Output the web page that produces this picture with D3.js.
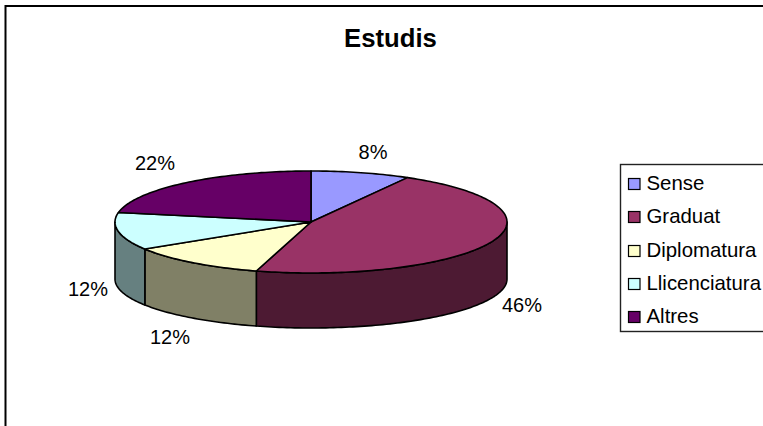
<!DOCTYPE html>
<html>
<head>
<meta charset="utf-8">
<script src="https://cdn.jsdelivr.net/npm/d3@7"></script>
<style>
  html, body { margin: 0; padding: 0; background: #fff; overflow: hidden; }
  text { font-family: "Liberation Sans", Arial, sans-serif; fill: #000; }
</style>
</head>
<body>
<div id="chart"></div>
<script>
// Data (slice shares estimated from the slice edges)
const categories = ["Sense", "Graduat", "Diplomatura", "Llicenciatura", "Altres"];
const values = [8.2, 46.3, 11.6, 11.9, 22];
const topColors = ["#9999ff", "#993366", "#ffffcc", "#ccffff", "#660066"];
const sideColors = ["#4d4d80", "#4d1a33", "#808066", "#668080", "#330033"];

const width = 763;
const height = 426;

const svg = d3.select("#chart")
  .append("svg")
  .attr("width", width)
  .attr("height", height);

// Chart frame, runs off the right and bottom of the window
svg.append("rect")
  .attr("x", 5.5)
  .attr("y", 6)
  .attr("width", 800)
  .attr("height", 500)
  .attr("fill", "#fff")
  .attr("stroke", "#000")
  .attr("stroke-width", 2);

svg.append("text")
  .attr("x", 390.5)
  .attr("y", 47)
  .attr("text-anchor", "middle")
  .style("font-size", "25.7px")
  .style("font-weight", "bold")
  .text("Estudis");

// Tilted pie: d3.pie gives the angles, the scales squash the circle
const cx = 311, rx = 196;
const xScale = d3.scaleLinear().domain([-1, 1]).range([cx - rx, cx + rx]);
const yTop = d3.scaleLinear().domain([-1, 1]).range([273, 171]);
const yBottom = d3.scaleLinear().domain([-1, 1]).range([328, 230]);

const pie = d3.pie().sort(null);
const arcs = pie(values);

const rimTop = d3.line().x(a => xScale(Math.sin(a))).y(a => yTop(Math.cos(a)));
const rimBottom = d3.line().x(a => xScale(Math.sin(a))).y(a => yBottom(Math.cos(a)));

function anglesBetween(a0, a1) {
  const n = Math.max(2, Math.ceil((a1 - a0) / 0.02));
  return d3.range(n + 1).map(i => a0 + (a1 - a0) * i / n);
}

const g = svg.append("g")
  .attr("stroke", "#000")
  .attr("stroke-width", 1.6)
  .attr("stroke-linejoin", "round");

// Side walls, only the part of each slice facing the viewer
arcs.forEach((d, i) => {
  const a0 = Math.max(d.startAngle, Math.PI / 2);
  const a1 = Math.min(d.endAngle, 3 * Math.PI / 2);
  if (a1 <= a0) return;
  const along = anglesBetween(a0, a1);
  g.append("path")
    .attr("d", rimTop(along) + "L" + rimBottom(along.reverse()).slice(1) + "Z")
    .attr("fill", sideColors[i]);
});

// Top slices
arcs.forEach((d, i) => {
  g.append("path")
    .attr("d", "M" + cx + "," + yTop(0) + "L" + rimTop(anglesBetween(d.startAngle, d.endAngle)).slice(1) + "Z")
    .attr("fill", topColors[i]);
});

// Percent labels
const labelAt = [[373, 159], [522, 312], [88, 296], [170, 344], [155, 170]];
labelAt.forEach((p, i) => {
  svg.append("text")
    .attr("x", p[0])
    .attr("y", p[1])
    .attr("text-anchor", "middle")
    .style("font-size", "20px")
    .text(Math.round(values[i]) + "%");
});

// Legend
const legend = svg.append("g");
legend.append("rect")
  .attr("x", 620.5)
  .attr("y", 164.5)
  .attr("width", 200)
  .attr("height", 167)
  .attr("fill", "#fff")
  .attr("stroke", "#222")
  .attr("stroke-width", 1.4);

const row = d3.scaleBand().domain(categories).range([167, 334]);

categories.forEach((c, i) => {
  const y = row(c) + row.bandwidth() / 2;
  legend.append("rect")
    .attr("x", 628.5)
    .attr("y", Math.round(y) - 5.5)
    .attr("width", 11.5)
    .attr("height", 11)
    .attr("fill", topColors[i])
    .attr("stroke", "#000")
    .attr("stroke-width", 1.2);
  legend.append("text")
    .attr("x", 646.5)
    .attr("y", y + 6)
    .style("font-size", "20.4px")
    .text(c);
});
</script>
</body>
</html>
